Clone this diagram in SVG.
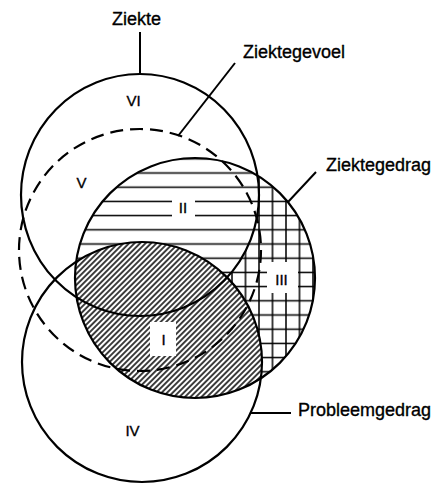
<svg xmlns="http://www.w3.org/2000/svg" width="444" height="484" viewBox="0 0 444 484">
<style>
.o{fill:none;stroke:#000;stroke-width:2.2}
.d{stroke-dasharray:13 7}
.l{fill:none;stroke:#000;stroke-width:2}
.h{stroke:#000;stroke-width:1.5}
.t{font-family:"Liberation Sans",Arial,sans-serif;font-size:18px;fill:#000;stroke:#000;stroke-width:0.35}
.n{font-family:"Liberation Sans",Arial,sans-serif;font-size:15px;fill:#000;stroke:#000;stroke-width:0.35;text-anchor:middle}
.w{fill:#fff}
</style>
<defs>
<pattern id="pH" patternUnits="userSpaceOnUse" x="0" y="165.9" width="10" height="14.2"><line class="h" x1="0" y1="7.1" x2="10" y2="7.1"/></pattern>
<pattern id="pV" patternUnits="userSpaceOnUse" x="225.25" y="0" width="13.5" height="10"><line class="h" x1="6.75" y1="0" x2="6.75" y2="10"/></pattern>
<pattern id="pD" patternUnits="userSpaceOnUse" x="0" y="0" width="3.9" height="10" patternTransform="rotate(45)"><line x1="1.95" y1="0" x2="1.95" y2="10" stroke="#000" stroke-width="1.5"/></pattern>
<mask id="mH" maskUnits="userSpaceOnUse" x="0" y="0" width="444" height="484">
<rect x="0" y="0" width="444" height="484" fill="#000"/>
<circle cx="195" cy="278" r="120" fill="#fff"/>
<circle cx="142" cy="362" r="120" fill="#000"/>
</mask>
<mask id="mV" maskUnits="userSpaceOnUse" x="0" y="0" width="444" height="484">
<rect x="0" y="0" width="444" height="484" fill="#000"/>
<circle cx="195" cy="278" r="120" fill="#fff"/>
<circle cx="142" cy="362" r="120" fill="#000"/>
<ellipse cx="140" cy="195" rx="119" ry="121" fill="#000"/>
</mask>
<clipPath id="cG"><circle cx="195" cy="278" r="120"/></clipPath>
<clipPath id="cP"><circle cx="142" cy="362" r="120"/></clipPath>
</defs>

<g id="hatching">
<rect x="0" y="0" width="444" height="484" fill="url(#pH)" mask="url(#mH)"/>
<rect x="0" y="0" width="444" height="484" fill="url(#pV)" mask="url(#mV)"/>
<g clip-path="url(#cG)"><rect x="0" y="0" width="444" height="484" fill="url(#pD)" clip-path="url(#cP)"/></g>
<rect class="w" x="172" y="197" width="23" height="22"/>
<rect class="w" x="267" y="262" width="31" height="31"/>
<rect class="w" x="150" y="322" width="26" height="34"/>
</g>

<g id="ziekte">
<ellipse class="o" cx="140" cy="195" rx="119" ry="121"/>
<text class="t" x="112" y="25">Ziekte</text>
</g>
<g id="ziektegevoel">
<circle class="o d" cx="140" cy="250" r="121"/>
<text class="t" x="243" y="58">Ziektegevoel</text>
</g>
<g id="ziektegedrag">
<circle class="o" cx="195" cy="278" r="120"/>
<text class="t" x="326" y="171">Ziektegedrag</text>
</g>
<g id="probleemgedrag">
<circle class="o" cx="142" cy="362" r="120"/>
<text class="t" x="298" y="416">Probleemgedrag</text>
</g>

<g id="regions">
<text class="n" x="133.5" y="106">VI</text>
<text class="n" x="81.5" y="188">V</text>
<text class="n" x="183" y="213">II</text>
<text class="n" x="281.5" y="285">III</text>
<text class="n" x="163.5" y="345">I</text>
<text class="n" x="132.5" y="436">IV</text>
</g>

<g id="connectors">
<line class="l" x1="140" y1="32" x2="140" y2="74"/>
<line class="l" x1="235" y1="63" x2="178" y2="136"/>
<line class="l" x1="316" y1="172" x2="288" y2="202"/>
<line class="l" x1="251" y1="413" x2="291" y2="413"/>
</g>
</svg>
